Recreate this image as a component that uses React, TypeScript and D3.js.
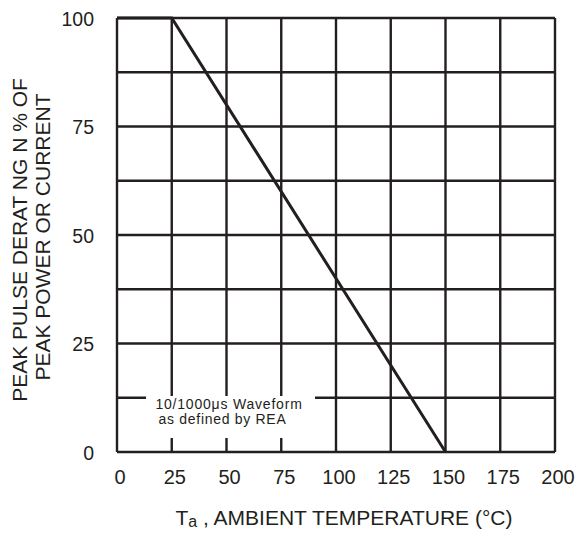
import * as d3 from "d3";

const w = 578;
const h = 534;
const left = 117;
const right = 555;
const top = 18;
const bottom = 452;

const xTicks = [0, 25, 50, 75, 100, 125, 150, 175, 200];
const yTicks = [0, 25, 50, 75, 100];
const yGrid = [0, 12.5, 25, 37.5, 50, 62.5, 75, 87.5, 100];
const tempC = [0, 25, 150];
const derating = [100, 100, 0];

const ink = "#231f20";
const font = "Liberation Sans, Arial, sans-serif";

const x = d3.scaleLinear().domain([0, 200]).range([left, right]);
const y = d3.scaleLinear().domain([0, 100]).range([bottom, top]);

const curve = d3
  .line<number>()
  .x((d) => x(d))
  .y((_, i) => y(derating[i]));

function App() {
  return (
    <svg
      width={w}
      height={h}
      style={{ position: "absolute", left: 0, top: 0, background: "#fff" }}
    >
      {xTicks.map((t) => (
        <line
          key={"vx" + t}
          x1={x(t)}
          x2={x(t)}
          y1={top}
          y2={bottom}
          stroke={ink}
          strokeWidth={2.4}
        />
      ))}
      {yGrid.map((t) => (
        <line
          key={"hy" + t}
          x1={left}
          x2={right}
          y1={y(t)}
          y2={y(t)}
          stroke={ink}
          strokeWidth={2.4}
        />
      ))}

      {/* white box behind the waveform note */}
      <rect x={146} y={396} width={169} height={42} fill="#fff" />
      <text
        x={229}
        y={409}
        textAnchor="middle"
        fontFamily={font}
        fontSize={14}
        letterSpacing={0.8}
        fill={ink}
      >
        10/1000μs Waveform
      </text>
      <text
        x={222.5}
        y={424}
        textAnchor="middle"
        fontFamily={font}
        fontSize={14}
        letterSpacing={0.7}
        fill={ink}
      >
        as defined by REA
      </text>

      <path
        d={curve(tempC) ?? ""}
        fill="none"
        stroke={ink}
        strokeWidth={3}
      />

      {yTicks.map((t) => (
        <text
          key={"yl" + t}
          x={94}
          y={y(t) + 7.5}
          textAnchor="end"
          fontFamily={font}
          fontSize={19.5}
          fill={ink}
        >
          {t}
        </text>
      ))}
      {xTicks.map((t) => (
        <text
          key={"xl" + t}
          x={x(t) + 3}
          y={484}
          textAnchor="middle"
          fontFamily={font}
          fontSize={20}
          fill={ink}
        >
          {t}
        </text>
      ))}

      <text
        x={344}
        y={525}
        textAnchor="middle"
        fontFamily={font}
        fontSize={21}
        fill={ink}
      >
        T<tspan fontSize={16} dy={2}>a</tspan>
        <tspan dy={-2}> , AMBIENT TEMPERATURE (°C)</tspan>
      </text>

      <g transform="translate(27,240) rotate(-90)">
        <text
          x={0}
          y={0}
          textAnchor="middle"
          fontFamily={font}
          fontSize={21}
          fill={ink}
        >
          PEAK PULSE DERAT NG N % OF
        </text>
      </g>
      <g transform="translate(50,237) rotate(-90)">
        <text
          x={0}
          y={0}
          textAnchor="middle"
          fontFamily={font}
          fontSize={21}
          fill={ink}
        >
          PEAK POWER OR CURRENT
        </text>
      </g>
    </svg>
  );
}

export default App;
